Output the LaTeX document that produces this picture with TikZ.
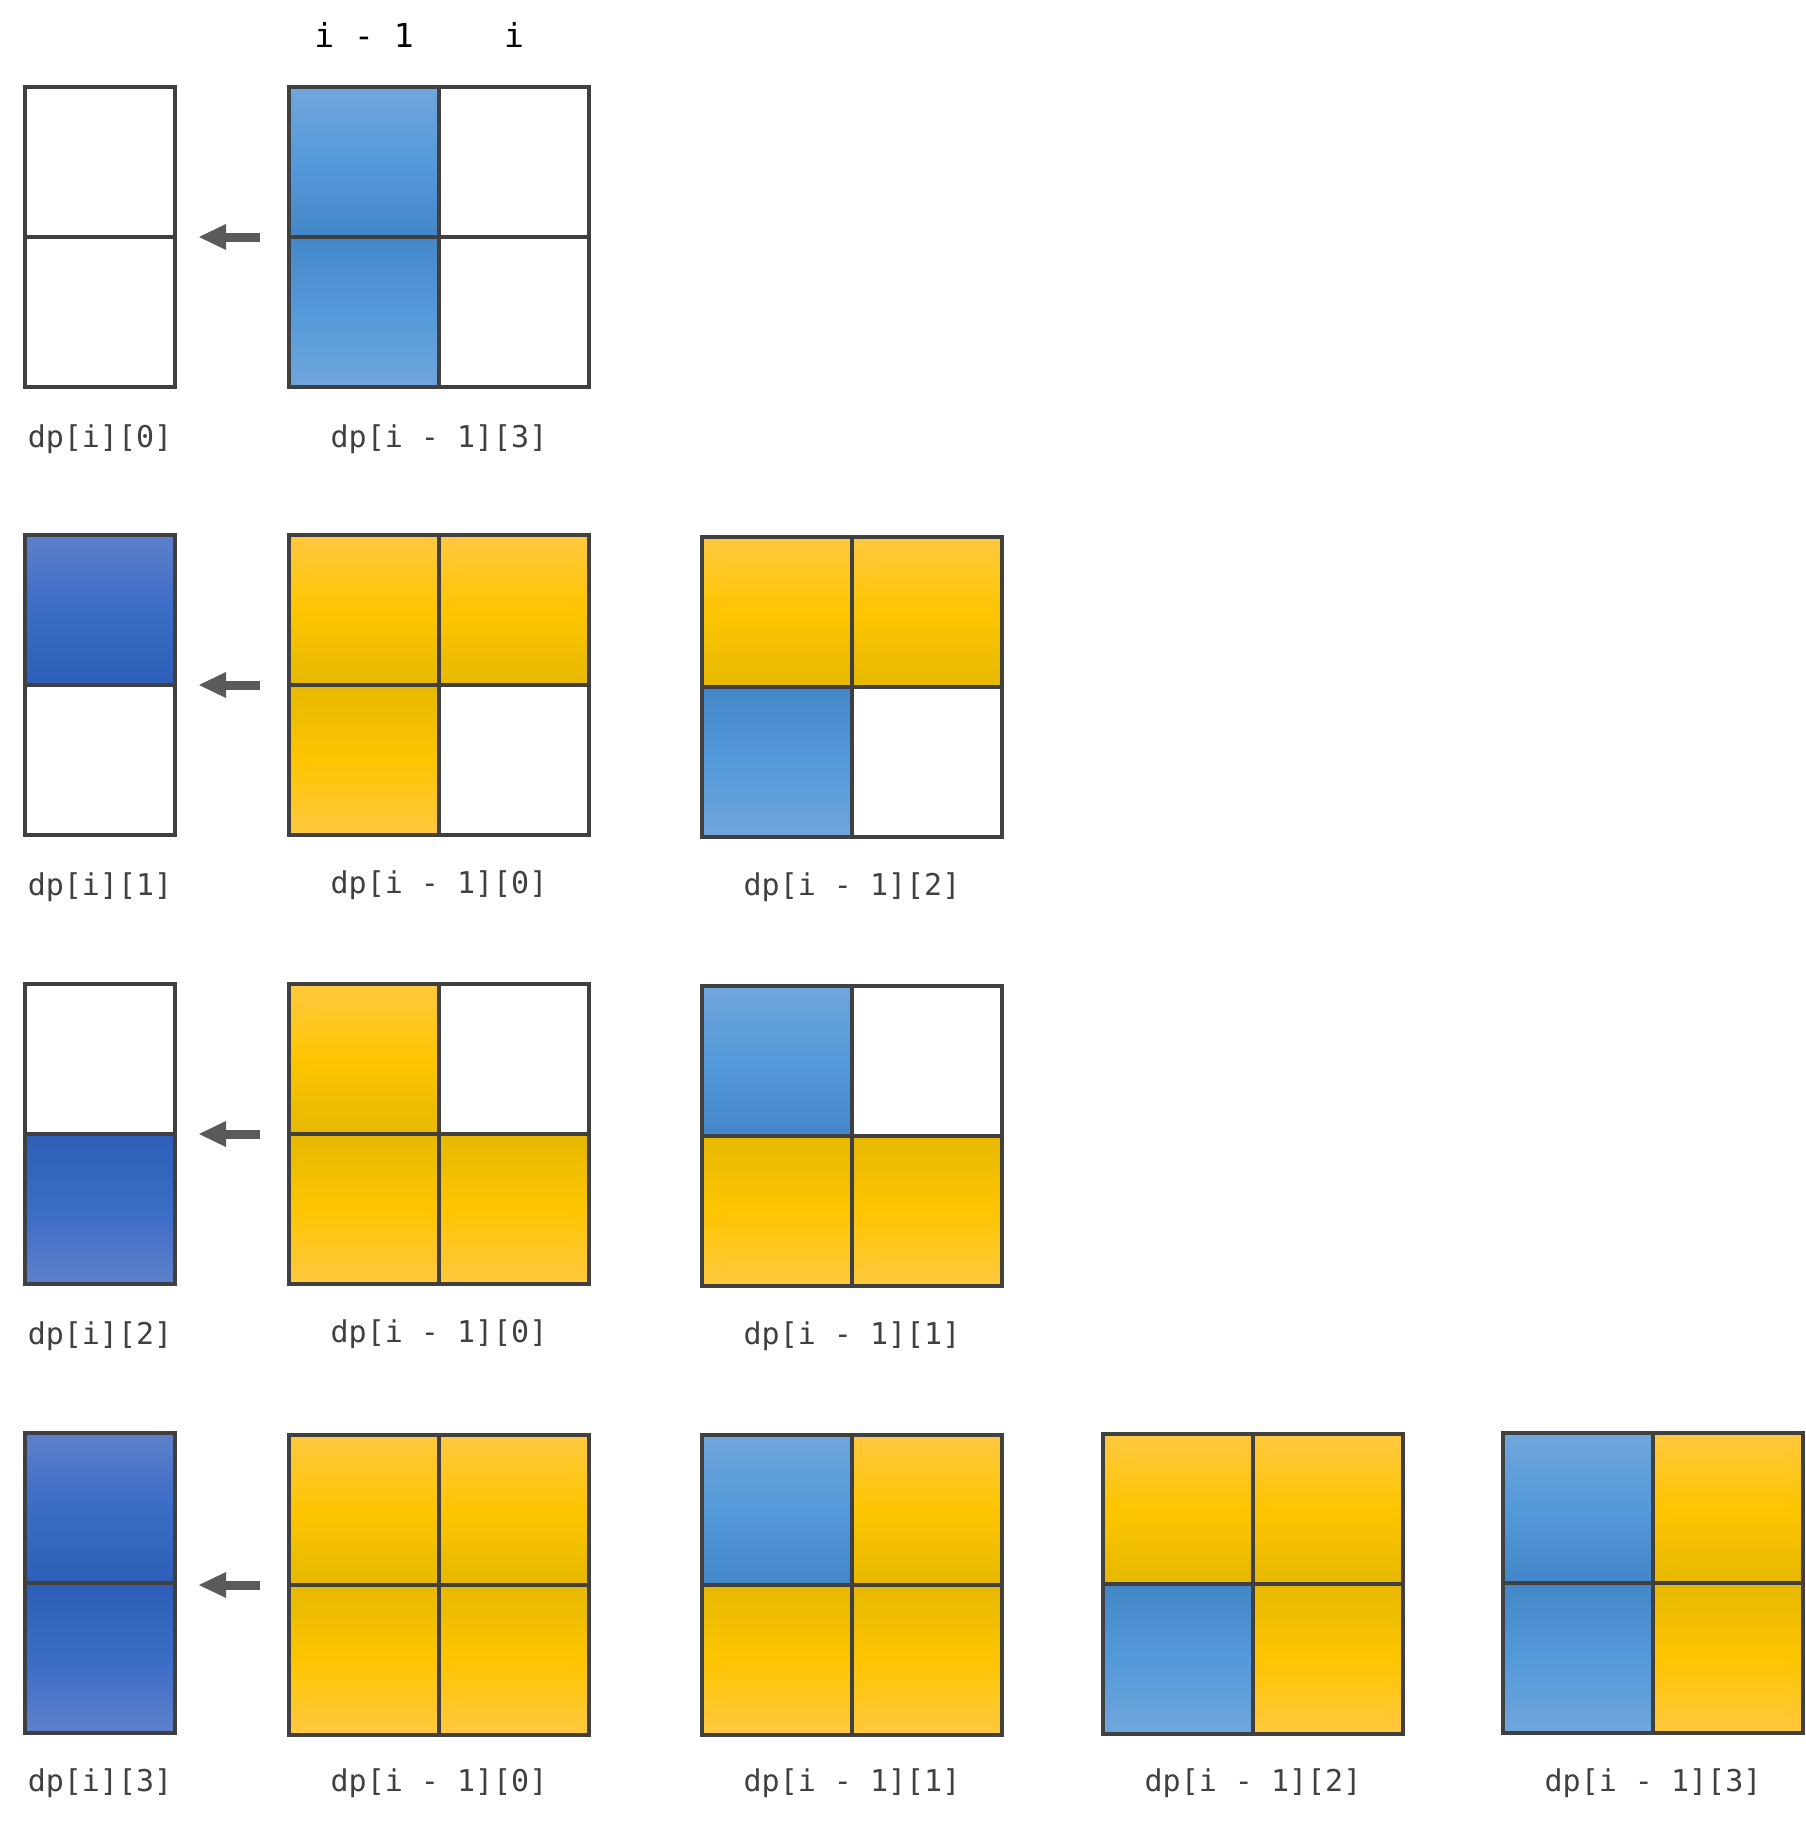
\documentclass[tikz,border=0pt]{standalone}
\usepackage{fontspec}
\setmonofont{DejaVu Sans Mono}
\usepackage{tikz}
\usetikzlibrary{positioning, arrows.meta}

\definecolor{frame}{HTML}{404040}
\definecolor{arrgray}{HTML}{5A5A5A}
\definecolor{labgray}{HTML}{404040}
\definecolor{ylight}{HTML}{FFC840}
\definecolor{ymid}{HTML}{FDC500}
\definecolor{ydark}{HTML}{E6B800}
\definecolor{blight}{HTML}{70A6DC}
\definecolor{bmid}{HTML}{5499D9}
\definecolor{bdark}{HTML}{4487C8}
\definecolor{dlight}{HTML}{5E80CB}
\definecolor{dmid}{HTML}{3B6CC6}
\definecolor{ddark}{HTML}{2D5EB8}

% 2x2 board: name, x, y, tl, tr, bl, br
\newcommand{\board}[7]{%
  \node[cell,#4] (#1tl) at (#2,#3) {};
  \node[cell,#5,right=0pt of #1tl] (#1tr) {};
  \node[cell,#6,below=0pt of #1tl] (#1bl) {};
  \node[cell,#7,right=0pt of #1bl] (#1br) {};
}
% 1x2 column: name, y, top, bottom
\newcommand{\pairbox}[4]{%
  \node[cell,#3] (#1t) at (25,#2) {};
  \node[cell,#4,below=0pt of #1t] (#1b) {};
}

\begin{document}
\begin{tikzpicture}[x=1pt,y=-1pt,
  cell/.style={draw=frame, line width=3.2pt, fill=white, minimum size=150pt, inner sep=0pt, outer sep=0pt, anchor=north west},
  yT/.style={top color=ylight, bottom color=ydark, middle color=ymid},
  yB/.style={top color=ydark, bottom color=ylight, middle color=ymid},
  bT/.style={top color=blight, bottom color=bdark, middle color=bmid},
  bB/.style={top color=bdark, bottom color=blight, middle color=bmid},
  dT/.style={top color=dlight, bottom color=ddark, middle color=dmid},
  dB/.style={top color=ddark, bottom color=dlight, middle color=dmid},
  wh/.style={},
  lab/.style={font=\fontsize{30pt}{36pt}\selectfont\ttfamily, text=labgray, inner sep=0pt},
  head/.style={font=\fontsize{33pt}{40pt}\selectfont\ttfamily, text=black, inner sep=0pt},
  arr/.style={draw=arrgray, line width=9pt, -{Triangle[length=27pt, width=26pt, line width=0pt]}}]
  \useasboundingbox (0,0) rectangle (1805,1825);

  \node[head] (hprev) at (364,35) {i - 1};
  \node[head] (hcur) at (514,35) {i};

  % row 1
  \pairbox{r1a}{87}{wh}{wh}
  \board{r1b}{289}{87}{bT}{wh}{bB}{wh}
  % row 2
  \pairbox{r2a}{535}{dT}{wh}
  \board{r2b}{289}{535}{yT}{yT}{yB}{wh}
  \board{r2c}{702}{537}{yT}{yT}{bB}{wh}
  % row 3
  \pairbox{r3a}{984}{wh}{dB}
  \board{r3b}{289}{984}{yT}{wh}{yB}{yB}
  \board{r3c}{702}{986}{bT}{wh}{yB}{yB}
  % row 4
  \pairbox{r4a}{1433}{dT}{dB}
  \board{r4b}{289}{1435}{yT}{yT}{yB}{yB}
  \board{r4c}{702}{1435}{bT}{yT}{yB}{yB}
  \board{r4d}{1103}{1434}{yT}{yT}{bB}{yB}
  \board{r4e}{1503}{1433}{bT}{yT}{bB}{yB}

  \foreach \r in {1,2,3,4}
    \draw[arr] ([xshift=-29pt]r\r btl.south west) -- ([xshift=24pt]r\r at.south east |- r\r btl.south west);

  \node[lab] (l1a) at ([yshift=-52pt]r1ab.south) {dp[i][0]};
  \node[lab] (l1b) at ([yshift=-52pt]r1bbl.south east) {dp[i - 1][3]};
  \node[lab] (l2a) at ([yshift=-52pt]r2ab.south) {dp[i][1]};
  \node[lab] (l2b) at ([yshift=-50pt]r2bbl.south east) {dp[i - 1][0]};
  \node[lab] (l2c) at ([yshift=-50pt]r2cbl.south east) {dp[i - 1][2]};
  \node[lab] (l3a) at ([yshift=-52pt]r3ab.south) {dp[i][2]};
  \node[lab] (l3b) at ([yshift=-50pt]r3bbl.south east) {dp[i - 1][0]};
  \node[lab] (l3c) at ([yshift=-50pt]r3cbl.south east) {dp[i - 1][1]};
  \node[lab] (l4a) at ([yshift=-50pt]r4ab.south) {dp[i][3]};
  \node[lab] (l4b) at ([yshift=-48pt]r4bbl.south east) {dp[i - 1][0]};
  \node[lab] (l4c) at ([yshift=-48pt]r4cbl.south east) {dp[i - 1][1]};
  \node[lab] (l4d) at ([yshift=-49pt]r4dbl.south east) {dp[i - 1][2]};
  \node[lab] (l4e) at ([yshift=-50pt]r4ebl.south east) {dp[i - 1][3]};
\end{tikzpicture}
\end{document}
